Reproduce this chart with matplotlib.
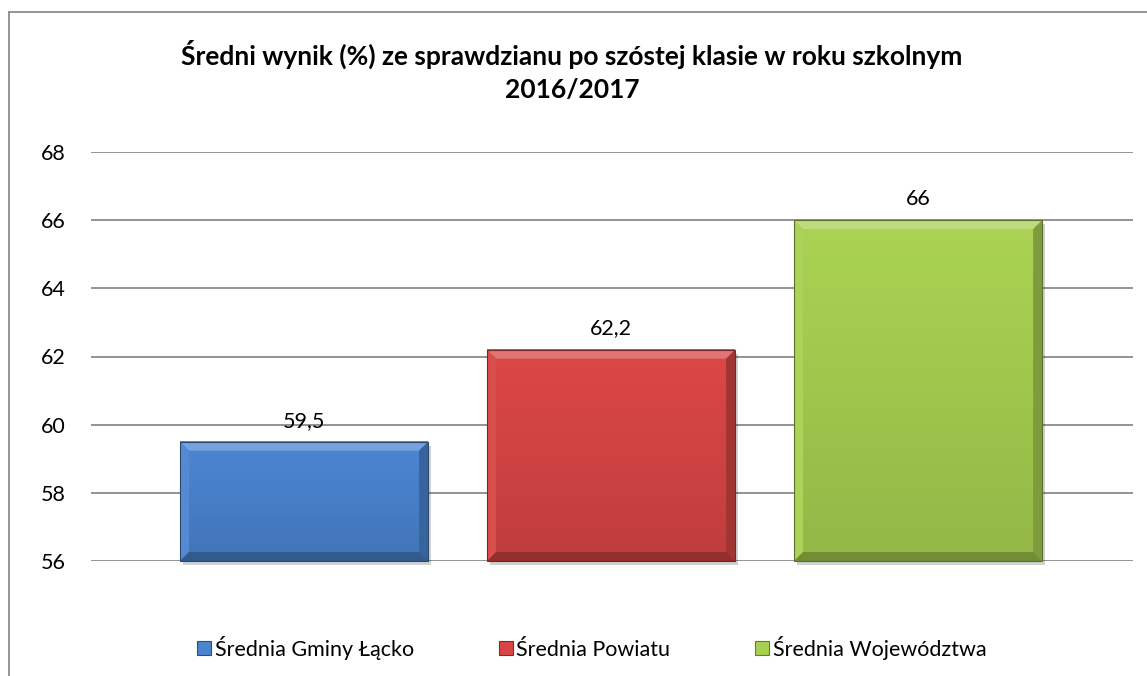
import matplotlib
matplotlib.use("Agg")
import matplotlib.pyplot as plt
from matplotlib.patches import Polygon, Rectangle
from matplotlib.lines import Line2D
import matplotlib.colors as mcolors
import numpy as np

categories = ["Średnia Gminy Łącko", "Średnia Powiatu", "Średnia Województwa"]
values = [59.5, 62.2, 66]
value_labels = ["59,5", "62,2", "66"]
colors = ["#4a84d0", "#d94545", "#a8d050"]
yticks = [56, 58, 60, 62, 64, 66, 68]
title = "Średni wynik (%) ze sprawdzianu po szóstej klasie w roku szkolnym\n2016/2017"

plt.rcParams['font.family'] = ['Lato', 'DejaVu Sans']

W, H = 1147, 676
fig = plt.figure(figsize=(W / 100, H / 100), dpi=100)
ax = fig.add_axes([91 / W, 1 - 561 / H, (1133 - 91) / W, (561 - 152) / H])

x = np.arange(len(categories))
bars = ax.bar(x, [v - 56 for v in values], bottom=56, width=0.808,
              color=colors, zorder=3, linewidth=0)
ax.set_xlim(-0.694, 2.70)
ax.set_ylim(56, 68)
ax.set_yticks(yticks)
ax.set_yticklabels([str(t) for t in yticks], fontsize=15.5)
ax.set_xticks([])
ax.yaxis.grid(True, color="#8a8a8a", linewidth=1.3, zorder=0)
for s in ax.spines.values():
    s.set_visible(False)
ax.tick_params(axis='y', length=0, pad=18)

fig.canvas.draw()
tr = ax.transData
bev = 9  # px bevel


def shade(c, f):
    r, g, b = mcolors.to_rgb(c)
    if f > 1:
        return (r + (1 - r) * (f - 1), g + (1 - g) * (f - 1), b + (1 - b) * (f - 1))
    return (r * f, g * f, b * f)


for b, c, lab in zip(bars, colors, value_labels):
    x0, y0 = tr.transform((b.get_x(), b.get_y()))
    x1, y1 = tr.transform((b.get_x() + b.get_width(), b.get_y() + b.get_height()))
    # shadow
    fig.patches.append(Rectangle((x0 + 3, y0 - 4), x1 - x0, y1 - y0, transform=None,
                                 facecolor=(0, 0, 0, 0.18), edgecolor='none', zorder=1, figure=fig))
    # gradient main face
    n = 30
    for i in range(n):
        ya = y0 + (y1 - y0) * i / n
        yb = y0 + (y1 - y0) * (i + 1) / n
        f = 0.88 + 0.14 * (i / n)
        fig.patches.append(Rectangle((x0, ya), x1 - x0, yb - ya + 0.5, transform=None,
                                     facecolor=shade(c, f), edgecolor='none', zorder=2, figure=fig))
    polys = [
        ([(x0, y1), (x1, y1), (x1 - bev, y1 - bev), (x0 + bev, y1 - bev)], 1.25),  # top
        ([(x0, y0), (x0, y1), (x0 + bev, y1 - bev), (x0 + bev, y0 + bev)], 1.05),  # left
        ([(x1, y0), (x1, y1), (x1 - bev, y1 - bev), (x1 - bev, y0 + bev)], 0.75),  # right
        ([(x0, y0), (x1, y0), (x1 - bev, y0 + bev), (x0 + bev, y0 + bev)], 0.68),  # bottom
    ]
    for pts, f in polys:
        fig.patches.append(Polygon(pts, closed=True, transform=None, facecolor=shade(c, f),
                                   edgecolor='none', zorder=3, figure=fig))
    fig.patches.append(Rectangle((x0, y0), x1 - x0, y1 - y0, transform=None, facecolor='none',
                                 edgecolor=shade(c, 0.55), linewidth=0.8, zorder=4, figure=fig))
    b.set_visible(False)
    ax.annotate(lab, (b.get_x() + b.get_width() / 2, b.get_y() + b.get_height()),
                xytext=(0, 8), textcoords='offset points', ha='center', va='bottom', fontsize=15.5)

fig.text(572 / W, 1 - 71 / H, title, ha='center', va='center', fontsize=19, fontweight='bold',
         linespacing=1.45)

# chart frame
fig.add_artist(Line2D([9 / W, 9 / W], [0, 1 - 12 / H], color="#8c8c8c", linewidth=1.3,
                      transform=fig.transFigure))
fig.add_artist(Line2D([9 / W, 1], [1 - 12 / H, 1 - 12 / H], color="#8c8c8c", linewidth=1.3,
                      transform=fig.transFigure))

handles = [Line2D([], [], marker='s', linestyle='none', markersize=10, markerfacecolor=c,
                  markeredgecolor=shade(c, 0.6), markeredgewidth=0.8) for c in colors]
fig.legend(handles, categories, loc='center', bbox_to_anchor=(591 / W, 1 - 648 / H), ncol=3,
           frameon=False, fontsize=15.5, handletextpad=0.1, columnspacing=3.85, handlelength=0.8)

fig.savefig("out.png", dpi=100)
